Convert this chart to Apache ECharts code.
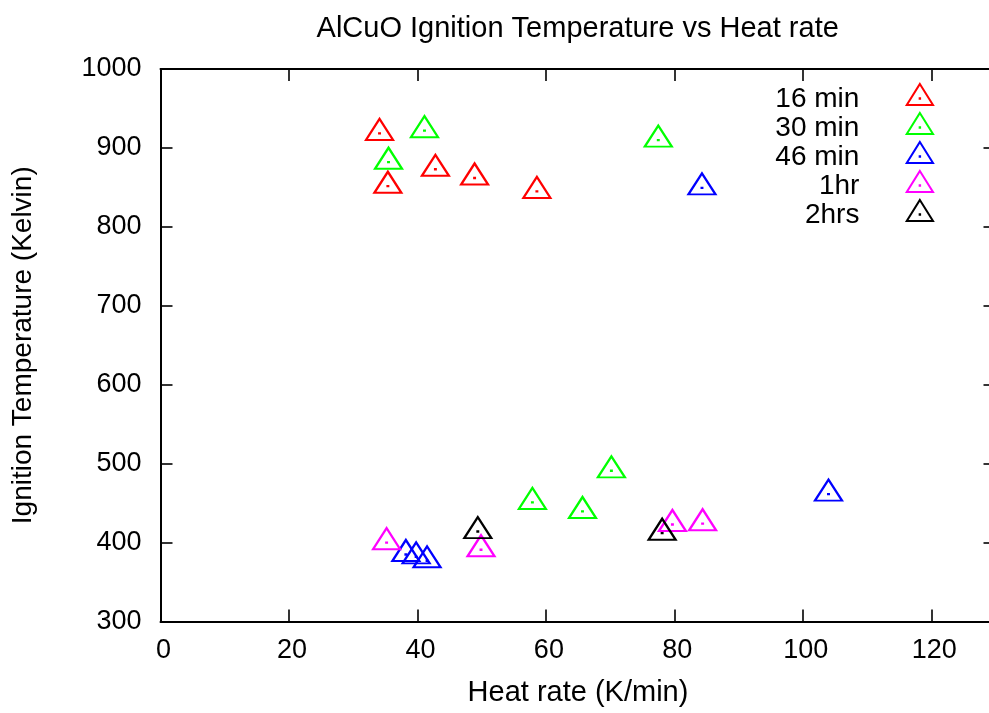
<!DOCTYPE html>
<html>
<head>
<meta charset="utf-8">
<script src="https://cdn.jsdelivr.net/npm/echarts@6/dist/echarts.min.js"></script>
<style>
  html, body { margin: 0; padding: 0; background: #fff; }
  #chart { width: 989px; height: 713px; }
</style>
</head>
<body>
<div id="chart"></div>
<script>
// Ignition temperature (K) against heating rate (K/min), grouped by milling time
const seriesNames = ['16 min', '30 min', '46 min', '1hr', '2hrs'];
const seriesColors = ['#ff0000', '#00ff00', '#0000ff', '#ff00ff', '#000000'];

const min16 = [[34.1, 918.5], [42.8, 873], [35.4, 851.6], [48.9, 862], [58.6, 845]];
const min30 = [[41.1, 922], [35.5, 882], [77.5, 910], [57.9, 451], [65.7, 439.5], [70.2, 491]];
const min46 = [[84.3, 849.5], [38.2, 385], [39.8, 382], [41.5, 377], [104.0, 461.5]];
const hr1 = [[35.2, 400], [49.9, 391], [79.7, 423], [84.4, 424]];
const hrs2 = [[49.4, 414], [78.1, 412]];
const seriesData = [min16, min30, min46, hr1, hrs2];

const xTicks = [0, 20, 40, 60, 80, 100, 120];
const yTicks = [300, 400, 500, 600, 700, 800, 900, 1000];

// open triangle with a small dot at its centroid
const triShape = 'M15 0L30 24L0 24Z M14.75 16.25L15.25 16.25L15.25 16.75L14.75 16.75Z';
const triPath = 'path://' + triShape;
// legend key: same triangle, with an empty move below it so the key sits a little above the text centre
const keyPath = 'path://' + triShape + ' M15 34';

const FONT = 'Liberation Sans, Arial, Helvetica, sans-serif';
const FS = 28;
const TICK_FS = 27;

const chart = echarts.init(document.getElementById('chart'), null, { renderer: 'canvas' });

const tickStyle = { show: true, inside: true, length: 12, lineStyle: { color: '#000', width: 1.6 } };
const lineStyle = { show: true, onZero: false, lineStyle: { color: '#000', width: 2 } };

const xBase = {
  type: 'value',
  min: xTicks[0],
  max: 130,
  interval: xTicks[1] - xTicks[0],
  splitLine: { show: false },
  axisLine: lineStyle,
  axisTick: tickStyle
};
const yBase = {
  type: 'value',
  min: yTicks[0],
  max: yTicks[yTicks.length - 1],
  interval: yTicks[1] - yTicks[0],
  splitLine: { show: false },
  axisLine: lineStyle,
  axisTick: tickStyle
};

chart.setOption({
  animation: false,
  backgroundColor: '#fff',
  textStyle: { fontFamily: FONT },
  title: {
    text: 'AlCuO Ignition Temperature vs Heat rate',
    left: 577.7,
    textAlign: 'center',
    top: 14,
    padding: 0,
    textStyle: { fontFamily: FONT, fontSize: 29, fontWeight: 'normal', color: '#000' }
  },
  grid: {
    left: 160.5, top: 69, width: 835, height: 552.5,
    containLabel: false, outerBoundsMode: 'none'
  },
  legend: {
    orient: 'vertical',
    align: 'right',
    right: 55,
    top: 83,
    padding: 0,
    itemGap: -2.75,
    itemWidth: 27,
    itemHeight: 29.75,
    selectedMode: false,
    data: seriesNames.map(n => ({ name: n, icon: keyPath })),
    textStyle: {
      fontFamily: FONT, fontSize: FS, color: '#000',
      lineHeight: 29, padding: [0, 42, 0, 0]
    }
  },
  xAxis: [
    Object.assign({}, xBase, {
      position: 'bottom',
      name: 'Heat rate (K/min)',
      nameLocation: 'middle',
      nameGap: 57,
      nameTextStyle: { fontFamily: FONT, fontSize: 29, color: '#000' },
      axisLabel: {
        show: true, margin: 16, color: '#000', fontFamily: FONT, fontSize: TICK_FS,
        showMaxLabel: false, padding: [0, 0, 0, 6],
        formatter: v => (xTicks.indexOf(v) >= 0 ? String(v) : '')
      }
    }),
    Object.assign({}, xBase, { position: 'top', axisLabel: { show: false } })
  ],
  yAxis: [
    Object.assign({}, yBase, {
      position: 'left',
      name: 'Ignition Temperature (Kelvin)',
      nameLocation: 'middle',
      nameGap: 123,
      nameTextStyle: { fontFamily: FONT, fontSize: FS, color: '#000' },
      axisLabel: {
        show: true, margin: 19, color: '#000', fontFamily: FONT, fontSize: TICK_FS,
        formatter: v => String(v)
      }
    }),
    Object.assign({}, yBase, { position: 'right', axisLabel: { show: false } })
  ],
  series: seriesNames.map((name, i) => ({
    name: name,
    type: 'scatter',
    xAxisIndex: 0,
    yAxisIndex: 0,
    symbol: triPath,
    symbolSize: [27, 21],
    symbolOffset: [0, -3.9],
    itemStyle: { color: 'transparent', borderColor: seriesColors[i], borderWidth: 2.2, opacity: 1 },
    emphasis: { disabled: true },
    data: seriesData[i]
  }))
});
</script>
</body>
</html>
